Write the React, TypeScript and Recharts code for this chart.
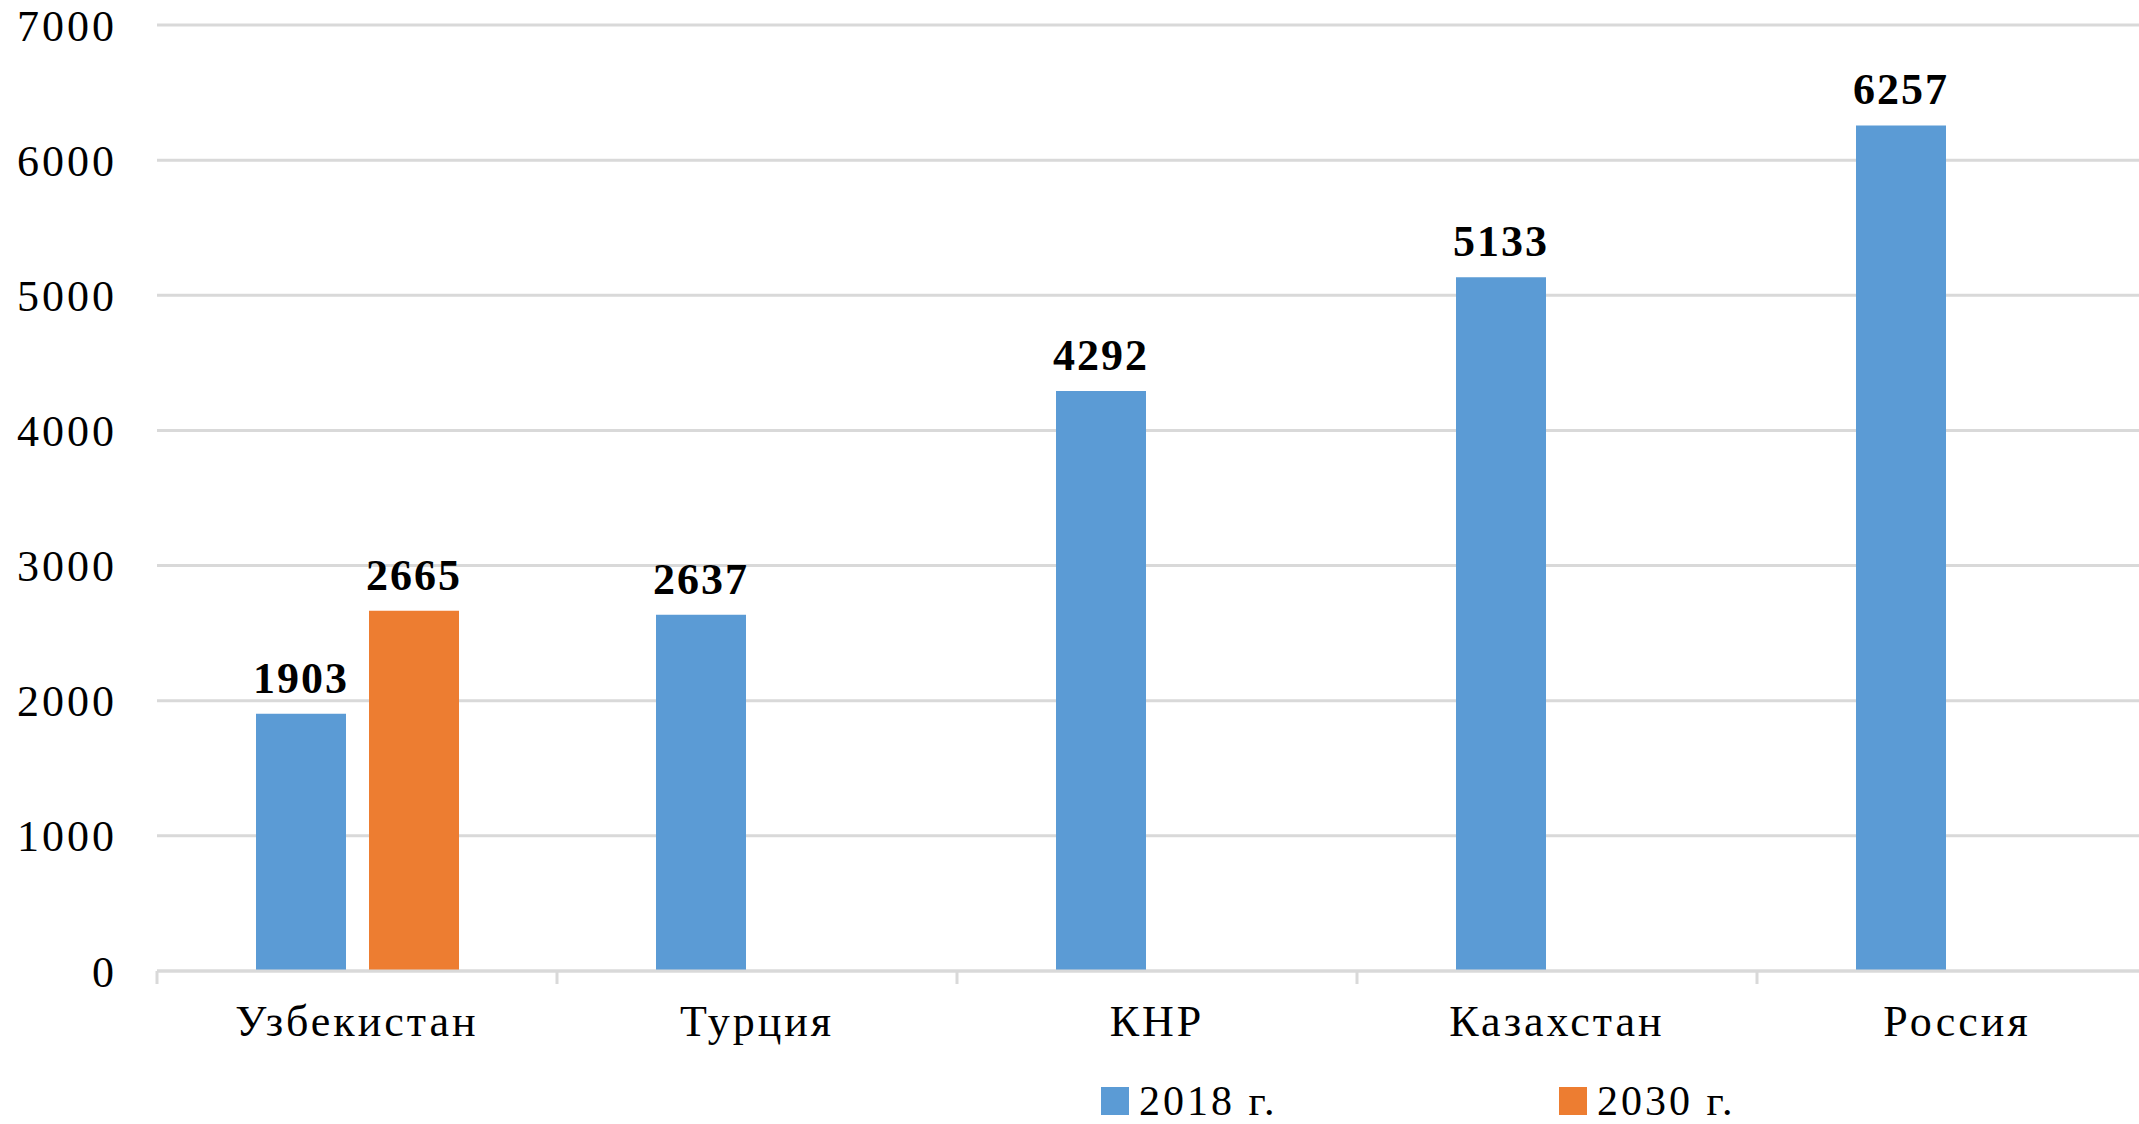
import { BarChart, Bar, XAxis, YAxis, CartesianGrid, LabelList } from 'recharts';

const categories = ['Узбекистан', 'Турция', 'КНР', 'Казахстан', 'Россия'];
const values2018 = [1903, 2637, 4292, 5133, 6257];
const values2030: (number | null)[] = [2665, null, null, null, null];
const yTicks = [0, 1000, 2000, 3000, 4000, 5000, 6000, 7000];

const series = [
    { key: 'y2018', name: '2018 г.', color: '#5B9BD5' },
    { key: 'y2030', name: '2030 г.', color: '#ED7D31' },
];

const data = categories.map((name, i) => ({ name, y2018: values2018[i], y2030: values2030[i] }));

const FONT = '"Liberation Serif", "Times New Roman", serif';

// category label + boundary tick on the left edge of each band
const CategoryTick = (props: any) => {
    const { x, y, payload, width, visibleTicksCount } = props;
    const band = width / (visibleTicksCount || categories.length);
    return (
        <g>
            <line x1={x - band / 2} x2={x - band / 2} y1={y} y2={y + 13} stroke="#d9d9d9" strokeWidth={3} />
            <text x={x} y={y} dy={65} textAnchor="middle" fontFamily={FONT} fontSize={44} letterSpacing={3} fill="#000">
                {payload.value}
            </text>
        </g>
    );
};

export default function App() {
    return (
        <div style={{ position: 'absolute', left: 0, top: 0, width: 2139, height: 1124, overflow: 'hidden', background: '#fff' }}>
            <BarChart
                width={2200}
                height={1124}
                data={data}
                margin={{ top: 25, right: 43, left: 0, bottom: 0 }}
                barSize={90}
                barGap={23}
            >
                <CartesianGrid vertical={false} stroke="#d9d9d9" strokeWidth={3} />
                <XAxis
                    dataKey="name"
                    height={153}
                    tickSize={0}
                    tickMargin={0}
                    axisLine={{ stroke: '#d9d9d9', strokeWidth: 3 }}
                    tickLine={false}
                    interval={0}
                    tick={<CategoryTick />}
                />
                <YAxis
                    width={157}
                    domain={[0, 7000]}
                    ticks={yTicks}
                    axisLine={false}
                    tickLine={false}
                    tickSize={0}
                    tickMargin={40}
                    tick={{ fontFamily: FONT, fontSize: 44, fill: '#000', letterSpacing: 3 }}
                />
                {series.map(s => (
                    <Bar key={s.key} dataKey={s.key} name={s.name} fill={s.color} isAnimationActive={false}>
                        <LabelList
                            dataKey={s.key}
                            position="top"
                            offset={21}
                            formatter={(v: any) => (v == null ? '' : v)}
                            style={{ fontFamily: FONT, fontSize: 44, fontWeight: 'bold', fill: '#000', letterSpacing: 2 }}
                        />
                    </Bar>
                ))}
            </BarChart>
            {/* legend */}
            {series.map((s, i) => (
                <div
                    key={s.key}
                    style={{
                        position: 'absolute',
                        left: i === 0 ? 1101 : 1559,
                        top: 1081,
                        height: 40,
                        display: 'flex',
                        alignItems: 'center',
                        fontFamily: FONT,
                        fontSize: 42,
                        letterSpacing: 3,
                        color: '#000',
                        lineHeight: '40px',
                    }}
                >
                    <span style={{ display: 'inline-block', width: 28, height: 28, background: s.color, marginRight: 10 }} />
                    <span>{s.name}</span>
                </div>
            ))}
        </div>
    );
}
